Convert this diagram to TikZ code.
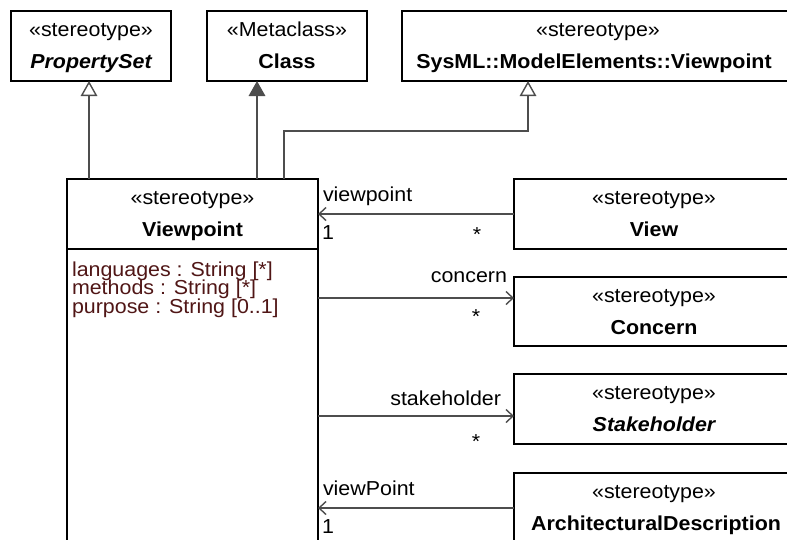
\documentclass[tikz,border=0pt]{standalone}
\usepackage{fontspec}
\setmainfont{Liberation Sans}[FakeStretch=1.06]
\usetikzlibrary{arrows.meta}
\definecolor{attr}{RGB}{80,22,22}
\definecolor{conn}{RGB}{77,77,77}
\begin{document}
\begin{tikzpicture}[x=1pt,y=-1pt,
  box/.style={draw=black,line width=1.6pt,fill=white,rectangle,anchor=north west,inner sep=0pt,outer sep=0pt},
  txt/.style={inner sep=0pt,outer sep=0pt,anchor=base,font=\fontsize{20.2}{22}\selectfont},
  btxt/.style={txt,font=\fontsize{20.2}{22}\selectfont\bfseries},
  bitxt/.style={txt,font=\fontsize{20.2}{22}\selectfont\bfseries\itshape},
  atxt/.style={txt,anchor=base west,text=attr},
  lbl/.style={txt},
  gen/.style={draw=conn,line width=1.6pt,-{Triangle[open,width=16.5pt,length=15pt,line width=1.4pt]}},
  genf/.style={draw=conn,line width=1.6pt,-{Triangle[width=16.5pt,length=15pt]}},
  assoc/.style={draw=conn,line width=1.6pt,-{Straight Barb[length=7pt,width=13pt,line width=1.4pt]}}
]
\useasboundingbox (0,0) rectangle (787,539);
\fill[white] (0,0) rectangle (787,539);
\clip (0,0) rectangle (787,539);

% top boxes
\node[box,minimum width=160pt,minimum height=70pt] (pset) at (11,11) {};
\node[txt] (pset-s) at (91,36.5) {«stereotype»};
\node[bitxt] (pset-n) at (91,68) {PropertySet};

\node[box,minimum width=160pt,minimum height=70pt] (cls) at (207,11) {};
\node[txt] (cls-s) at (287,36.5) {«Metaclass»};
\node[btxt] (cls-n) at (287,68) {Class};

\node[box,minimum width=392pt,minimum height=70pt] (sysml) at (402,11) {};
\node[txt] (sysml-s) at (598,36.5) {«stereotype»};
\node[btxt] (sysml-n) at (594,68) {SysML::ModelElements::Viewpoint};

% Viewpoint
\node[box,minimum width=251pt,minimum height=400pt] (vp) at (67,179) {};
\coordinate (sepl) at (67,249);
\coordinate (sepr) at (318,249);
\draw[line width=1.6pt] (sepl) -- (sepr);
\node[txt] (vp-s) at (192.5,204.5) {«stereotype»};
\node[btxt] (vp-n) at (192.5,236) {Viewpoint};
\node[atxt] (a1) at (72,276) {languages : String [*]};
\node[atxt] (a2) at (72,294.5) {methods : String [*]};
\node[atxt] (a3) at (72,313) {purpose : String [0..1]};

% right boxes
\node[box,minimum width=280pt,minimum height=70pt] (view) at (514,179) {};
\node[txt] (view-s) at (654,204.5) {«stereotype»};
\node[btxt] (view-n) at (654,236) {View};

\node[box,minimum width=280pt,minimum height=69pt] (concern) at (514,277) {};
\node[txt] (concern-s) at (654,302.5) {«stereotype»};
\node[btxt] (concern-n) at (654,334) {Concern};

\node[box,minimum width=280pt,minimum height=70pt] (stake) at (514,374) {};
\node[txt] (stake-s) at (654,399.5) {«stereotype»};
\node[bitxt] (stake-n) at (654,431) {Stakeholder};

\node[box,minimum width=280pt,minimum height=100pt] (ad) at (514,473) {};
\node[txt] (ad-s) at (654,498.5) {«stereotype»};
\node[btxt] (ad-n) at (656,530) {ArchitecturalDescription};

% generalizations
\coordinate (g1) at (89,179);
\draw[gen] (g1) -- (g1 |- pset.south);
\coordinate (g2) at (257,179);
\draw[genf] (g2) -- (g2 |- cls.south);
\coordinate (g3) at (284,179);
\coordinate (g3b) at (284,131);
\coordinate (g3c) at (528,131);
\draw[gen] (g3) -- (g3b) -- (g3c) -- (g3c |- sysml.south);

% associations
\draw[assoc] (view.west) -- (view.west -| vp.east);
\node[lbl,anchor=base west] (l-vp) at (323,201) {viewpoint};
\node[lbl,anchor=base west] (m-vp1) at (322,239) {1};
\node[lbl] (m-vp2) at (477,241) {*};

\coordinate (c1) at (318,298);
\draw[assoc] (c1) -- (c1 -| concern.west);
\node[lbl,anchor=base east] (l-con) at (507,282) {concern};
\node[lbl] (m-con) at (476,323) {*};

\coordinate (s1) at (318,416);
\draw[assoc] (s1) -- (s1 -| stake.west);
\node[lbl,anchor=base east] (l-st) at (501,405) {stakeholder};
\node[lbl] (m-st) at (476,448) {*};

\coordinate (d1) at (514,508);
\draw[assoc] (d1) -- (d1 -| vp.east);
\node[lbl,anchor=base west] (l-ad) at (323,495) {viewPoint};
\node[lbl,anchor=base west] (m-ad) at (322,533) {1};
\end{tikzpicture}
\end{document}
